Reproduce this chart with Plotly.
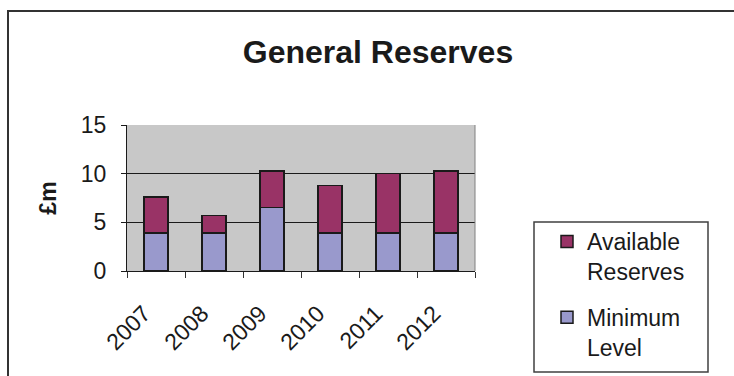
import plotly.graph_objects as go

years = ["2007", "2008", "2009", "2010", "2011", "2012"]
minimum_level = [3.9, 3.9, 6.5, 3.9, 3.9, 3.9]
available_reserves = [3.7, 1.8, 3.8, 4.9, 6.1, 6.4]

FONT = "Liberation Sans, Arial, sans-serif"
INK = "#1a1a1a"

fig = go.Figure()
fig.add_trace(go.Bar(
    x=years, y=minimum_level, name="Minimum<br>Level",
    legendgroup="min", legendrank=2,
    marker=dict(color="#9999CC", line=dict(color=INK, width=1.5)),
))
fig.add_trace(go.Bar(
    x=years, y=available_reserves, name="Available<br>Reserves",
    legendgroup="avail", legendrank=1,
    marker=dict(color="#993366", line=dict(color=INK, width=1.5)),
))

W, H = 734, 376
L, R, T, B = 127, 475, 125, 271
px_x = lambda v: (v - L) / (R - L)
px_y = lambda v: (B - v) / (B - T)

fig.update_layout(
    width=W, height=H,
    barmode="stack", bargap=0.59,
    margin=dict(l=L, r=W - R, t=T, b=H - B, pad=0, autoexpand=False),
    paper_bgcolor="white", plot_bgcolor="#C8C8C8",
    font=dict(family=FONT, size=23, color=INK),
    title=dict(text="<b>General Reserves</b>", x=378 / W, xanchor="center",
               y=1 - 52 / H, yanchor="middle",
               font=dict(family=FONT, size=32, color=INK)),
    showlegend=True,
    legend=dict(
        x=px_x(547), xanchor="left",
        y=px_y(369), yanchor="bottom",
        borderwidth=0, bgcolor="rgba(0,0,0,0)",
        font=dict(family=FONT, size=23, color=INK),
        traceorder="grouped", tracegroupgap=13,
        itemwidth=30, valign="top",
    ),
    xaxis=dict(
        type="category", tickangle=-45, ticks="outside", tickson="boundaries",
        ticklen=6, tickcolor="#333333", showline=True, linecolor=INK,
        linewidth=1, showgrid=False,
        ticklabelstandoff=19, ticklabelshift=-12,
        tickfont=dict(family=FONT, size=23, color=INK),
    ),
    yaxis=dict(
        range=[0, 15], tickvals=[0, 5, 10, 15], ticks="outside", ticklen=5,
        tickcolor=INK, showline=True, linecolor=INK, linewidth=1,
        showgrid=True, gridcolor=INK, gridwidth=1, zeroline=False,
        ticklabelstandoff=10,
        tickfont=dict(family=FONT, size=23, color=INK),
        title=dict(text="<b>£m</b>", standoff=17,
                   font=dict(family=FONT, size=23, color=INK)),
    ),
)

# plot-area border (right side, Excel-style grey frame)
fig.add_shape(type="line", xref="paper", yref="paper", x0=1, x1=1, y0=0, y1=1,
              line=dict(color="#808080", width=1))
# legend frame
fig.add_shape(type="rect", xref="paper", yref="paper",
              x0=px_x(534), x1=px_x(708), y0=px_y(372), y1=px_y(222),
              line=dict(color="#404040", width=1.5), fillcolor="white", layer="below")
# outer chart frame (cropped at right and bottom in the reference)
fig.add_shape(type="rect", xref="paper", yref="paper",
              x0=px_x(8), x1=px_x(W + 5), y0=px_y(H + 5), y1=px_y(11),
              line=dict(color="#333333", width=2), layer="below")

fig.write_html("out.html")
